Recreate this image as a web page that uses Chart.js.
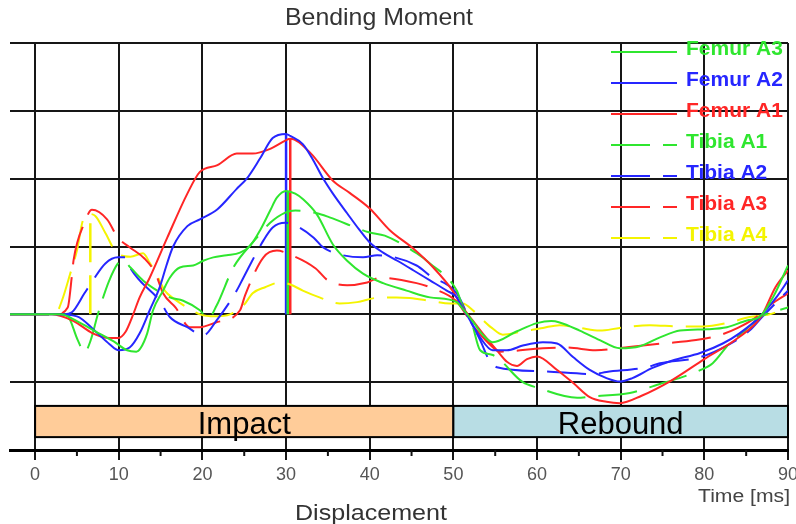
<!DOCTYPE html>
<html>
<head>
<meta charset="utf-8">
<script src="https://cdn.jsdelivr.net/npm/chart.js@4.4.1/dist/chart.umd.min.js"></script>
<style>
  html, body { margin: 0; padding: 0; background: #fff; }
  canvas { display: block; }
</style>
</head>
<body>
<canvas id="chart" width="796" height="524"></canvas>
<script>
// series: [time ms, moment in grid units]
const seriesNames = ['Femur A3', 'Femur A2', 'Femur A1', 'Tibia A1', 'Tibia A2', 'Tibia A3', 'Tibia A4'];

const femurA3 = [[-3,0],[3,0],[5,-0.1],[7.2,-0.25],[9.4,-0.4],[11,-0.53],[12.1,-0.55],[12.6,-0.5],[13.4,-0.28],[14.1,0.06],
  [15.3,0.35],[16.1,0.54],[17.3,0.69],[18.9,0.72],[20.1,0.79],[21.3,0.84],[22.9,0.87],[24.5,0.91],[25.7,1.01],[26.9,1.24],
  [28.1,1.53],[28.9,1.72],[30,1.82],[31.1,1.78],[32,1.7],[33.7,1.47],[35.6,1.03],[37.3,0.79],[39.2,0.6],[41.6,0.46],
  [44.4,0.35],[47.2,0.25],[50.4,0.18],[51,0.1],[52.3,-0.1],[53.5,-0.3],[54.7,-0.41],[57.6,-0.25],[60,-0.13],[61.7,-0.1],
  [62.7,-0.12],[65.1,-0.24],[67.5,-0.38],[69.9,-0.5],[72.3,-0.47],[74.7,-0.34],[77.1,-0.24],[80.3,-0.22],[82.7,-0.19],[85.1,-0.09],
  [86.6,-0.04],[88.2,0.25],[90,0.72]];

const femurA2 = [[-3,0],[2.4,0],[5,-0.03],[7.2,-0.25],[8.9,-0.44],[10,-0.53],[11.3,-0.49],[12.5,-0.28],[13.7,0.06],[14.9,0.4],
  [15.7,0.72],[16.5,1.0],[18.2,1.3],[19.7,1.4],[21.8,1.55],[24.1,1.85],[25.3,2.0],[26.9,2.3],[28.4,2.6],[30,2.66],
  [30.5,2.63],[32,2.51],[33.3,2.26],[34.4,2.01],[35.6,1.78],[37.3,1.49],[38.8,1.24],[40,1.06],[41.6,0.91],[43.3,0.79],
  [45.2,0.65],[47.2,0.5],[49.2,0.35],[50.4,0.25],[50.8,0.16],[52,-0.09],[53.2,-0.34],[54.7,-0.53],[56.4,-0.53],[58.3,-0.46],
  [60.7,-0.41],[62.4,-0.43],[64.3,-0.63],[66.3,-0.82],[68.3,-0.94],[69.9,-0.99],[71.4,-0.94],[73.8,-0.79],[76.2,-0.68],[79.5,-0.57],
  [82.2,-0.43],[84.2,-0.28],[86.6,-0.04],[88.6,0.25],[90,0.5]];

const femurA1 = [[-3,0],[2,0],[4.6,-0.1],[6.9,-0.28],[8.9,-0.35],[9.9,-0.35],[10.8,-0.26],[11.6,-0.04],[12.5,0.25],[13.7,0.54],
  [15.8,1.13],[18.2,1.78],[19.7,2.1],[21.8,2.2],[24.1,2.37],[26,2.37],[28.1,2.44],[29.9,2.56],[30.5,2.59],[32.9,2.38],
  [35.6,1.97],[37.6,1.79],[40,1.56],[42.4,1.24],[45.2,0.97],[47.6,0.69],[49.9,0.35],[50.8,0.16],[52.3,-0.09],[53.5,-0.28],
  [55.2,-0.53],[56.4,-0.7],[57.6,-0.76],[58.8,-0.66],[60,-0.62],[62.4,-0.82],[64.3,-1.01],[66.3,-1.22],[68.3,-1.29],[69.9,-1.31],
  [72.5,-1.2],[76,-0.98],[80,-0.66],[84,-0.35],[86.8,-0.03],[88.5,0.4],[90,0.65]];

const tibiaA1 = [[-3,0],[3.2,0],[3.8,-0.01],[5.1,-0.38],[5.9,-0.56],[6.6,-0.4],[7.5,0],[8,0.2],[8.8,0.48],[9.9,0.75],
  [10.5,0.8],[11.4,0.69],[12.9,0.5],[14.6,0.35],[16.1,0.25],[17.7,0.2],[19.7,0.06],[20.7,-0.06],[21.7,0.13],[23.7,0.69],
  [26.3,1.1],[28.1,1.35],[29.9,1.5],[31.1,1.53],[33.7,1.49],[35.2,1.43],[39.9,1.21],[41.8,1.16],[45.6,0.9],[47.2,0.75],
  [50.4,0.35],[51.1,0.12],[52.2,-0.13],[53.2,-0.53],[54.7,-0.6],[58.3,-1.0],[60,-1.08],[64.8,-1.23],[66.6,-1.21],[71.1,-1.16],
  [74.6,-1.03],[77,-0.94],[79,-0.85],[81,-0.72],[83,-0.43],[85,-0.22],[86.8,-0.03],[90,0.1]];

const tibiaA2 = [[-3,0],[3.5,0],[4.4,0.03],[5.9,0.31],[6.9,0.5],[8.4,0.75],[9.9,0.84],[10.8,0.84],[11.4,0.68],[12.5,0.5],
  [14.9,0.2],[16.1,-0.04],[18.2,-0.19],[20.1,-0.31],[21.7,-0.09],[24.1,0.35],[24.9,0.54],[27.3,1.09],[28.4,1.28],[29.9,1.35],
  [31.1,1.31],[33.3,1.13],[34.4,0.99],[36.5,0.88],[39.2,0.84],[40.9,0.87],[45.6,0.72],[47.2,0.57],[50.4,0.31],[52,-0.09],
  [53.2,-0.38],[54.3,-0.68],[55.2,-0.78],[60.7,-0.84],[66.8,-0.88],[68.3,-0.85],[73.1,-0.78],[74.7,-0.72],[79.5,-0.63],[82.7,-0.46],
  [85.4,-0.24],[86.9,-0.04],[90,0.35]];

const tibiaA3 = [[-3,0],[2.5,0],[3.9,0.1],[4.4,0.57],[4.6,0.8],[5.9,1.35],[6.8,1.54],[8.6,1.4],[9.9,1.13],[11.3,0.99],
  [13.1,0.82],[14.4,0.6],[15.3,0.31],[16.8,0.1],[18.5,-0.19],[19.7,-0.19],[21.6,-0.12],[24.5,0.06],[25.1,0.28],[27.3,0.84],
  [28.9,0.94],[30.5,0.88],[33.5,0.68],[35,0.5],[37.3,0.43],[39.7,0.47],[41.2,0.54],[45.6,0.46],[47.6,0.38],[50.3,0.2],
  [51.5,0],[52.7,-0.22],[54,-0.4],[55.6,-0.55],[60.7,-0.5],[63.6,-0.49],[67,-0.53],[71,-0.48],[75,-0.43],[79,-0.38],
  [82,-0.3],[84,-0.2],[86,-0.06],[88,0.15],[90,0.31]];

const tibiaA4 = [[-3,0],[2.4,0],[3.2,0.2],[4.2,0.6],[5,0.94],[5.7,1.38],[6.4,1.48],[7.2,1.45],[8.4,1.2],[9.8,0.9],
  [11.4,0.85],[12.9,0.9],[13.7,0.76],[14.7,0.54],[15.5,0.35],[16.7,0.22],[18.2,0.1],[19.7,0],[21.5,-0.03],[23.3,0],
  [24.9,0.13],[26,0.31],[27.5,0.4],[29.3,0.47],[30.5,0.44],[32,0.35],[34,0.25],[36.4,0.16],[38.5,0.18],[40.6,0.24],
  [43.2,0.25],[44.8,0.24],[47.2,0.2],[49.6,0.16],[51.1,0.16],[52.5,0.04],[53.5,-0.08],[54.6,-0.2],[55.9,-0.3],[58,-0.26],
  [60.7,-0.2],[62.7,-0.16],[65.1,-0.2],[67.5,-0.24],[69.9,-0.2],[73.5,-0.16],[77.1,-0.18],[79.8,-0.18],[83,-0.12],[85.4,-0.04],
  [87.8,0],[90,0.1]];

const seriesData = [femurA3, femurA2, femurA1, tibiaA1, tibiaA2, tibiaA3, tibiaA4];

// vertical peak markers
const peakSeries = ['Femur A3', 'Femur A2', 'Femur A1', 'Tibia A4'];
const peakTimes = [30.2, 30.0, 30.5, 6.6];
const peakValues = [1.82, 2.66, 2.59, 1.4];

const xTicks = [0, 10, 20, 30, 40, 50, 60, 70, 80, 90];
const minorTicks = [5, 15, 25, 35, 45, 55, 65, 75, 85];

const phaseLabels = ['Impact', 'Rebound'];
const phaseStart = [0, 50];
const phaseEnd = [50, 90];

const FONT = '"Liberation Sans", Arial, sans-serif';
const colors = {
  'Femur A3': '#2fe62f', 'Femur A2': '#2626ff', 'Femur A1': '#ff2626',
  'Tibia A1': '#2fe62f', 'Tibia A2': '#2626ff', 'Tibia A3': '#ff2626', 'Tibia A4': '#f4f400'
};
const phaseFill = ['#ffcc99', '#b8dde4'];
const DASH = [39, 13];
const isDashed = name => name.startsWith('Tibia');

function fitText(ctx, s, cx, y, font, color, width) {
  ctx.save();
  ctx.font = font;
  ctx.fillStyle = color;
  ctx.textAlign = 'left';
  ctx.textBaseline = 'alphabetic';
  const w = ctx.measureText(s).width;
  const k = width ? width / w : 1;
  ctx.translate(cx - w * k / 2, y);
  ctx.scale(k, 1);
  ctx.fillText(s, 0, 0);
  ctx.restore();
}

const datasets = seriesNames.map((name, i) => ({
  label: name,
  data: seriesData[i].map(([x, y]) => ({ x, y })),
  borderColor: colors[name],
  borderWidth: 2,
  borderDash: isDashed(name) ? DASH : [],
  pointRadius: 0,
  fill: false,
  cubicInterpolationMode: 'monotone'
}));

peakSeries.forEach((name, i) => {
  datasets.push({
    label: name + ' peak',
    data: [{ x: peakTimes[i], y: 0 }, { x: peakTimes[i], y: peakValues[i] }],
    borderColor: colors[name],
    borderWidth: 2.5,
    borderDash: isDashed(name) ? DASH : [],
    pointRadius: 0,
    fill: false,
    tension: 0
  });
});

const phasePlugin = {
  id: 'phases',
  beforeDatasetsDraw(chart) {
    const ctx = chart.ctx;
    const xs = chart.scales.x, ys = chart.scales.y;
    const top = ys.getPixelForValue(-1.35), bottom = ys.getPixelForValue(-1.81);
    phaseLabels.forEach((label, i) => {
      const x0 = xs.getPixelForValue(phaseStart[i]), x1 = xs.getPixelForValue(phaseEnd[i]);
      ctx.save();
      ctx.fillStyle = phaseFill[i];
      ctx.fillRect(x0, top, x1 - x0, bottom - top);
      ctx.strokeStyle = '#000';
      ctx.lineWidth = 2;
      ctx.strokeRect(x0, top, x1 - x0, bottom - top);
      ctx.restore();
      fitText(ctx, label, (x0 + x1) / 2, bottom - 3, '31px ' + FONT, '#000');
    });
  }
};

const decorPlugin = {
  id: 'decor',
  afterDraw(chart) {
    const ctx = chart.ctx;
    const xs = chart.scales.x;
    const axisY = chart.chartArea.bottom;

    // minor ticks
    ctx.save();
    ctx.strokeStyle = '#111';
    ctx.lineWidth = 2;
    minorTicks.forEach(v => {
      const x = xs.getPixelForValue(v);
      ctx.beginPath();
      ctx.moveTo(x, axisY);
      ctx.lineTo(x, axisY + 6);
      ctx.stroke();
    });
    ctx.restore();

    // legend inside the plot
    seriesNames.forEach((name, i) => {
      const y = 52 + i * 31;
      ctx.save();
      ctx.strokeStyle = colors[name];
      ctx.lineWidth = 2;
      ctx.setLineDash(isDashed(name) ? DASH : []);
      ctx.beginPath();
      ctx.moveTo(611, y);
      ctx.lineTo(677, y);
      ctx.stroke();
      ctx.restore();
      ctx.save();
      ctx.font = 'bold 21px ' + FONT;
      ctx.fillStyle = colors[name];
      ctx.textAlign = 'left';
      ctx.textBaseline = 'alphabetic';
      ctx.fillText(name, 686, y + 3);
      ctx.restore();
    });

    fitText(ctx, 'Bending Moment', 379, 25, '24px ' + FONT, '#333', 188);
    fitText(ctx, 'Displacement', 371, 520, '22px ' + FONT, '#333', 152);
    fitText(ctx, 'Time [ms]', 744, 502, '18px ' + FONT, '#444', 92);
  }
};

new Chart(document.getElementById('chart'), {
  type: 'line',
  data: { datasets },
  options: {
    responsive: false,
    animation: false,
    devicePixelRatio: 1,
    layout: { padding: { left: 10, right: 8, top: 43, bottom: 0 } },
    plugins: {
      legend: { display: false },
      tooltip: { enabled: false },
      title: { display: false }
    },
    scales: {
      x: {
        type: 'linear',
        min: -3,
        max: 90,
        afterBuildTicks: s => { s.ticks = xTicks.map(v => ({ value: v })); },
        afterFit: s => { s.height = 74; s.paddingLeft = 0; s.paddingRight = 0; },
        ticks: {
          autoSkip: false,
          maxRotation: 0,
          color: '#555',
          padding: 4,
          font: { family: FONT, size: 18 }
        },
        grid: { color: '#161616', lineWidth: 2, tickLength: 10, tickWidth: 2, tickColor: '#161616' },
        border: { display: true, color: '#000', width: 3 }
      },
      y: {
        type: 'linear',
        min: -2,
        max: 4,
        afterFit: s => { s.width = 0; },
        ticks: { display: false, stepSize: 1 },
        grid: { color: '#161616', lineWidth: 2, drawTicks: false },
        border: { display: false }
      }
    }
  },
  plugins: [phasePlugin, decorPlugin]
});
</script>
</body>
</html>
